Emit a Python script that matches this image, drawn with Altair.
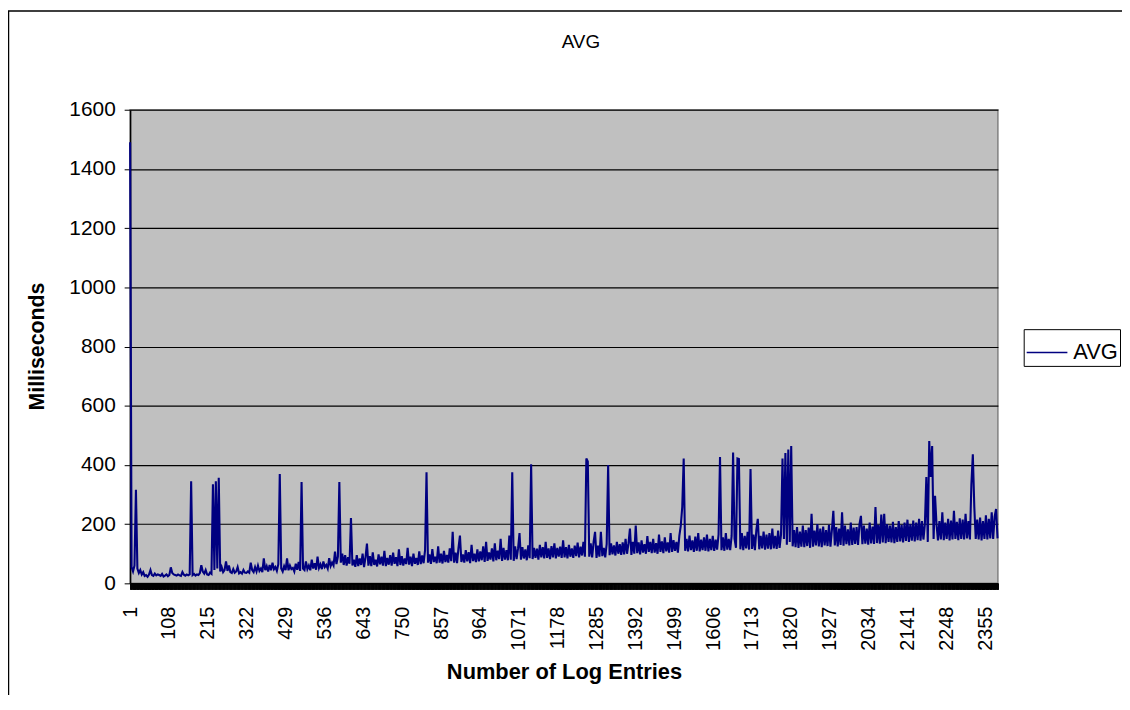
import altair as alt
import pandas as pd

# ---------------- data ----------------
n_entries = 2390          # number of log entries on the category axis
sample_step = 4           # one reading every 4 log entries

# AVG milliseconds, one value per sampled entry (entry 1, 5, 9, ...)
avg_part_a = [
    1490, 55, 40, 60, 316, 50, 35, 45, 30, 38, 25, 28, 22, 30, 45, 28, 25, 33, 27, 30,
    28, 25, 32, 23, 26, 30, 24, 28, 54, 35, 30, 28, 26, 30, 27, 25, 38, 29, 26, 30,
    27, 30, 345, 28, 32, 26, 30, 28, 35, 61, 40, 33, 45, 30, 28, 36, 32, 335, 45, 345,
    50, 357, 40, 55, 38, 45, 74, 42, 60, 38, 35, 48, 36, 40, 55, 34, 38, 33, 45, 36,
    35, 40, 36, 70, 45, 38, 55, 40, 60, 42, 50, 38, 84, 45, 58, 40, 62, 44, 70, 48,
    55, 42, 65, 369, 50, 40, 58, 45, 84, 44, 60, 48, 52, 40, 66, 46, 72, 42, 342, 50,
    45, 74, 48, 60, 44, 80, 50, 68, 46, 90, 52, 64, 48, 74, 55, 62, 50, 85, 58, 70,
    60, 107, 65, 90, 342, 70, 100, 62, 95, 60, 88, 66, 221, 60, 80, 56, 95, 58, 84, 62,
    100, 55, 88, 134, 60, 92, 58, 105, 62, 80, 57, 98, 64, 90, 60, 110, 58, 86, 63, 95,
    60, 104, 66, 88, 58, 115, 62, 92, 60, 84, 65, 120, 63, 90, 58, 100, 66, 86, 62, 108,
]
avg_part_b = [
    65, 94, 68, 112, 375, 70, 98, 66, 116, 72, 90, 68, 125, 70, 100, 67, 110, 72, 96, 70,
    118, 75, 174, 70, 104, 68, 120, 161, 72, 98, 70, 112, 74, 105, 68, 130, 75, 100, 72, 115,
    74, 108, 78, 125, 72, 140, 76, 104, 80, 118, 74, 135, 78, 110, 82, 150, 76, 120, 80, 112,
    78, 161, 80, 375, 76, 125, 82, 118, 170, 80, 122, 84, 115, 78, 128, 85, 402, 82, 120, 86,
    117, 80, 130, 88, 122, 84, 140, 86, 118, 82, 126, 88, 135, 84, 120, 90, 124, 86, 145, 88,
    122, 84, 130, 90, 118, 86, 127, 92, 138, 88, 124, 94, 140, 90, 422, 412, 90, 135, 88, 140,
    174, 86, 127, 90, 174, 92, 120, 88, 133, 400, 95, 135, 98, 128, 94, 140, 100, 132, 96, 138,
    98, 150, 100, 135, 185, 96, 140, 100, 195, 102, 138, 98, 145, 104, 132, 100, 160, 106, 140, 102,
    150, 104, 136, 100, 165, 106, 142, 102, 155, 108, 138, 104, 170, 106, 146, 110, 140, 104, 160, 195,
    258, 422, 110, 150, 108, 161, 112, 145, 106, 158, 110, 170, 108, 148, 112, 155, 110, 165, 108, 150,
]
avg_part_c = [
    112, 160, 110, 148, 114, 165, 427, 112, 155, 110, 170, 114, 150, 112, 160, 442, 150, 120, 422, 420,
    115, 170, 112, 160, 118, 174, 114, 386, 116, 165, 112, 180, 218, 115, 160, 118, 175, 114, 165, 117,
    170, 115, 185, 118, 160, 116, 178, 120, 165, 422, 150, 440, 130, 452, 140, 464, 125, 180, 122, 190,
    120, 175, 124, 195, 122, 180, 126, 188, 120, 235, 124, 178, 128, 200, 125, 185, 122, 192, 128, 180,
    126, 198, 124, 180, 245, 128, 190, 125, 185, 130, 240, 127, 195, 132, 182, 128, 205, 130, 188, 133,
    190, 130, 200, 228, 132, 195, 134, 185, 131, 205, 135, 192, 133, 258, 136, 198, 134, 232, 138, 235,
    136, 200, 140, 195, 138, 208, 136, 190, 140, 210, 142, 198, 138, 205, 143, 215, 140, 200, 144, 212,
    142, 205, 146, 218, 144, 210, 148, 200, 359, 140, 481, 359, 464, 150, 296, 200, 145, 210, 148, 240,
    146, 205, 150, 218, 145, 212, 148, 245, 150, 208, 146, 220, 150, 215, 148, 235, 152, 210, 148, 335,
    436, 260, 150, 215, 148, 222, 145, 210, 150, 230, 148, 218, 152, 240, 150, 225, 251, 152,
]

x_tick_labels = [1, 108, 215, 322, 429, 536, 643, 750, 857, 964, 1071, 1178, 1285,
                 1392, 1499, 1606, 1713, 1820, 1927, 2034, 2141, 2248, 2355]
y_ticks = [0, 200, 400, 600, 800, 1000, 1200, 1400, 1600]

series_name = "AVG"
chart_title = "AVG"
x_title = "Number of Log Entries"
y_title = "Milliseconds"

# ---------------- build ----------------
avg_ms = avg_part_a + avg_part_b + avg_part_c
entries = [1 + sample_step * i for i in range(len(avg_ms))]
df = pd.DataFrame({"entry": entries, "ms": avg_ms, "series": series_name})

FONT = "Liberation Sans"
NAVY = "#000080"
W, H = 874, 477

label_expr = "indexof(%s, datum.value) >= 0 ? format(datum.value, 'd') : ''" % str(x_tick_labels)

line = alt.Chart(df).mark_line(strokeWidth=2.1, clip=False).encode(
    x=alt.X(
        "entry:Q",
        scale=alt.Scale(domain=[1, n_entries], nice=False, zero=False),
        axis=alt.Axis(
            values=list(range(1, n_entries + 1)),
            labelExpr=label_expr,
            labelAngle=270,
            labelAlign="right",
            labelBaseline="middle",
            labelOverlap=False,
            labelFlush=False,
            labelFontSize=20,
            labelPadding=17,
            labelColor="black",
            labelFont=FONT,
            tickSize=6,
            tickColor="black",
            tickWidth=1,
            domainColor="black",
            domainWidth=1.5,
            grid=False,
            title=x_title,
            titleFont=FONT,
            titleFontSize=22,
            titleFontWeight="bold",
            titleColor="black",
            titleY=89,
            titleBaseline="middle",
        ),
    ),
    y=alt.Y(
        "ms:Q",
        scale=alt.Scale(domain=[0, 1600], nice=False),
        axis=alt.Axis(
            values=y_ticks,
            format="d",
            labelFontSize=21,
            labelFont=FONT,
            labelColor="black",
            labelPadding=9,
            tickSize=6,
            tickColor="black",
            domainColor="black",
            domainWidth=1.5,
            grid=True,
            gridColor="black",
            gridWidth=1.2,
            title=y_title,
            titleFont=FONT,
            titleFontSize=21.5,
            titleFontWeight="bold",
            titleColor="black",
            titleAngle=270,
            titleX=-93,
            titleY=238,
            titleAlign="center",
            titleBaseline="middle",
        ),
    ),
    color=alt.Color(
        "series:N",
        scale=alt.Scale(range=[NAVY]),
        legend=alt.Legend(
            title=None,
            orient="none",
            legendX=900,
            legendY=221,
            symbolType="stroke",
            symbolSize=1681,
            symbolStrokeWidth=1.3,
            labelFontSize=22,
            labelFont=FONT,
            labelColor="black",
            labelExpr="datum.label + '\u00a0\u00a0\u00a0\u00a0'",
            strokeColor="black",
            fillColor="white",
            padding=2,
            labelOffset=5,
        ),
    ),
)

frame = alt.Chart(alt.Data(values=[{}])).mark_rect(
    fill="white", fillOpacity=0, stroke="black", strokeWidth=1.5, clip=False
).encode(
    x=alt.value(-122.5), x2=alt.value(1200),
    y=alt.value(-99.5), y2=alt.value(800),
)

title_mark = alt.Chart(alt.Data(values=[{"t": chart_title}])).mark_text(
    font=FONT, fontSize=19, color="black", align="center", baseline="middle"
).encode(
    text="t:N", x=alt.value(454), y=alt.value(-68),
)

chart = alt.layer(frame, line, title_mark).properties(
    width=W,
    height=H,
    autosize=alt.AutoSizeParams(type="none"),
    padding={"left": 123, "top": 100, "right": 125, "bottom": 110},
    background="white",
).configure_view(
    fill="#C0C0C0", stroke="#808080", strokeWidth=1.5
)

chart.save("out.html", embed_options={"renderer": "svg", "actions": False})
